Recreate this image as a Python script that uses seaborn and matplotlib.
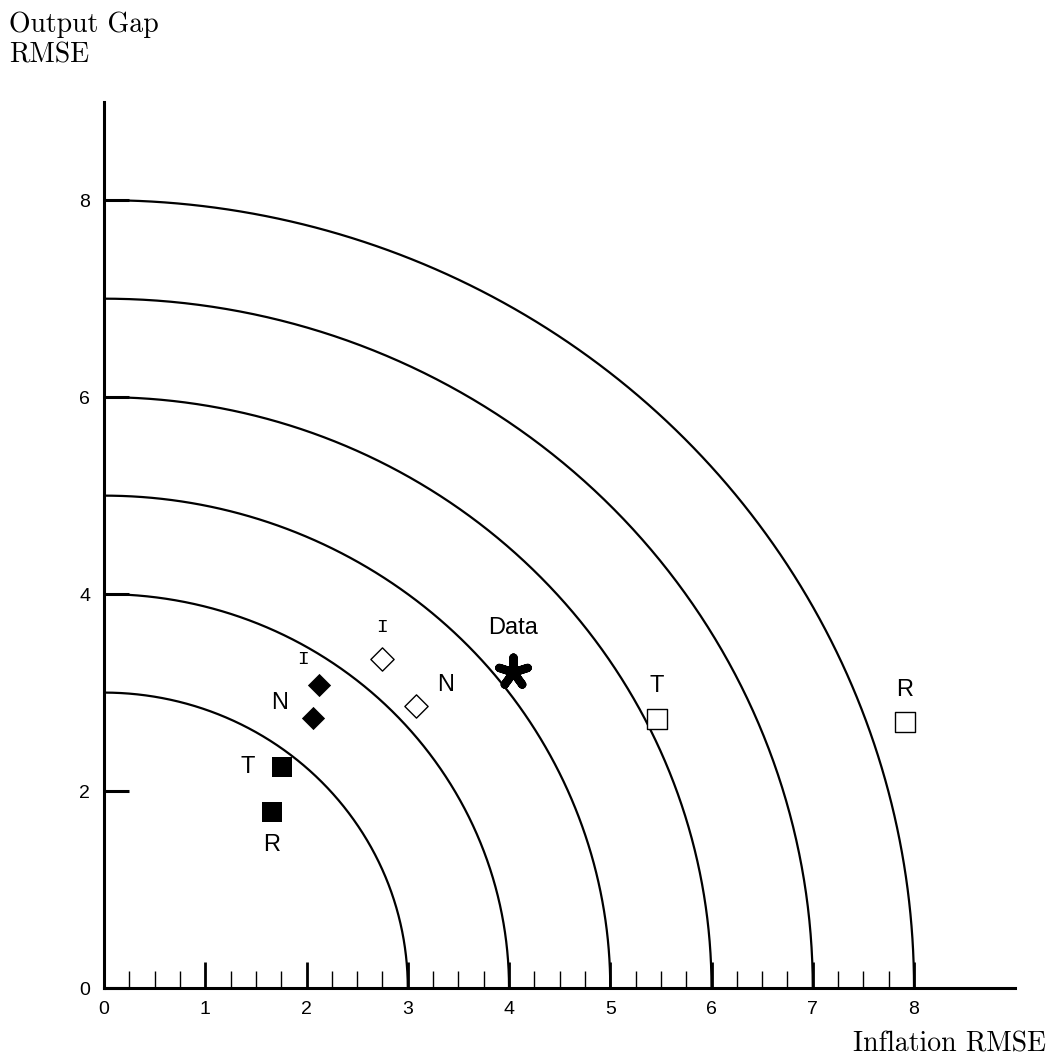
import numpy as np
import pandas as pd
import seaborn as sns
from matplotlib import pyplot as plt

# radii of the iso-loss quarter circles
radii = [3, 4, 5, 6, 7, 8]

# model results (inflation RMSE, output gap RMSE)
names = ['R', 'T', 'N', 'I', 'I', 'N', 'Data', 'T', 'R']
inflation = [1.66, 1.76, 2.06, 2.12, 2.75, 3.08, 4.04, 5.46, 7.91]
output_gap = [1.79, 2.24, 2.74, 3.08, 3.34, 2.86, 3.21, 2.73, 2.70]
kinds = ['fsq', 'fsq', 'fdia', 'fdia', 'odia', 'odia', 'star', 'osq', 'osq']

xticks = [0, 1, 2, 3, 4, 5, 6, 7, 8]
yticks = [0, 2, 4, 6, 8]

df = pd.DataFrame({'name': names, 'x': inflation, 'y': output_gap, 'kind': kinds})

sns.set_style('ticks')
plt.rcParams['font.family'] = ['Liberation Sans', 'DejaVu Sans']
for k in ['text.color', 'axes.edgecolor', 'xtick.color', 'ytick.color', 'axes.labelcolor']:
    plt.rcParams[k] = 'black'

fig = plt.figure(figsize=(10.51, 10.64), dpi=100)
ax = fig.add_axes([0.099, 0.0714, 0.867, 0.833])

# quarter circles
theta = np.linspace(0, np.pi / 2, 400)
for r in radii:
    ax.plot(r * np.cos(theta), r * np.sin(theta), color='black', lw=1.6, zorder=2)

styles = {
    'fsq': dict(marker='s', s=210, color='black', edgecolor='black', linewidth=0),
    'fdia': dict(marker='D', s=140, color='black', edgecolor='black', linewidth=0),
    'odia': dict(marker='D', s=140, facecolor='white', edgecolor='black', linewidth=1.0),
    'osq': dict(marker='s', s=215, facecolor='white', edgecolor='black', linewidth=1.0),
    'star': dict(marker=(5, 2, 0), s=460, color='black', edgecolor='black', linewidth=6),
}
for k, st in styles.items():
    sub = df[df['kind'] == k]
    sns.scatterplot(data=sub, x='x', y='y', ax=ax, zorder=3, legend=False, **st)

# label offsets in pixels
offsets = [(0, -33), (-35, 0), (-33, 15), (-16, 25), (0, 32), (30, 21), (0, 44), (0, 33), (0, 32)]
for (nm, x, y), (dx, dy) in zip(df[['name', 'x', 'y']].values, offsets):
    if nm == 'I':
        ax.annotate(nm, (x, y), xytext=(dx, dy), textcoords='offset pixels',
                    ha='center', va='center', fontsize=14, family=['Liberation Mono', 'DejaVu Sans Mono'])
    else:
        ax.annotate(nm, (x, y), xytext=(dx, dy), textcoords='offset pixels',
                    ha='center', va='center', fontsize=17)

ax.set_xlim(0, 9)
ax.set_ylim(0, 9)
sns.despine(ax=ax)
ax.spines['left'].set_linewidth(2.2)
ax.spines['bottom'].set_linewidth(2.2)

ax.set_xticks(xticks)
ax.set_xticks(np.arange(0.25, 8.01, 0.25), minor=True)
ax.set_yticks(yticks)
ax.tick_params(axis='x', which='major', direction='in', length=19, width=2, labelsize=14, pad=9)
ax.tick_params(axis='x', which='minor', direction='in', length=12, width=1)
ax.tick_params(axis='y', which='major', direction='in', length=18, width=2.2, labelsize=14, pad=10)
ax.set_xlabel('')
ax.set_ylabel('')

fig.text(0.009, 0.989, 'Output Gap\nRMSE', ha='left', va='top', fontsize=20,
         family=['cmr10', 'DejaVu Serif'], linespacing=1.2)
fig.text(0.995, 0.006, 'Inflation RMSE', ha='right', va='bottom', fontsize=20,
         family=['cmr10', 'DejaVu Serif'])

fig.savefig('out.png', dpi=100)
